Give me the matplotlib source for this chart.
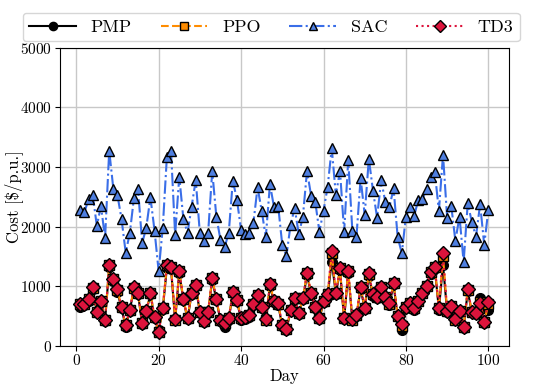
import matplotlib
matplotlib.use("Agg")
import matplotlib.pyplot as plt
import numpy as np

plt.rcParams['font.family'] = ['cmr10', 'DejaVu Serif']
plt.rcParams['axes.formatter.use_mathtext'] = True
plt.rcParams['mathtext.fontset'] = 'cm'

days = list(range(1, 101))

sac = [2282, 2243, 2461, 2534, 2013, 2349, 1807, 3277, 2640, 2528,
       2125, 1566, 1890, 2478, 2629, 1723, 1985, 2494, 1935, 1253,
       1985, 3177, 3272, 1862, 2841, 2131, 1890, 2338, 2780, 1890,
       1762, 1890, 2931, 2170, 1779, 1655, 1890, 2774, 2450, 1946,
       1874, 1890, 2069, 2662, 2265, 1823, 2713, 2327, 2349, 1689,
       1510, 2025, 2315, 1874, 2170, 2936, 2517, 2416, 1918, 2265,
       2668, 3317, 2528, 2942, 1913, 3121, 1935, 1834, 2813, 2198,
       3143, 2606, 2153, 2785, 2411, 2327, 2645, 1823, 1555, 2170,
       2327, 2181, 2450, 2466, 2629, 2841, 2919, 2265, 3205, 2153,
       2349, 1762, 2170, 1404, 2394, 2075, 1834, 2377, 1695, 2282]

td3 = [705, 710, 783, 984, 576, 761, 436, 1365, 1130, 951,
       649, 352, 604, 984, 895, 380, 587, 895, 481, 229,
       643, 1359, 1331, 447, 1264, 789, 464, 895, 1023, 576,
       425, 576, 1146, 789, 440, 391, 464, 906, 772, 464,
       492, 520, 705, 850, 660, 447, 1040, 761, 716, 352,
       290, 604, 800, 559, 800, 1230, 884, 649, 464, 755,
       867, 1599, 895, 1303, 464, 1264, 447, 520, 995, 643,
       1219, 867, 828, 995, 828, 716, 1062, 503, 369, 649,
       727, 632, 755, 895, 1007, 1247, 1331, 632, 1555, 593,
       671, 447, 593, 324, 951, 576, 559, 727, 408, 744]

pmp = [650, 690, 760, 960, 560, 740, 420, 1320, 1080, 900,
       630, 320, 590, 960, 870, 360, 570, 870, 460, 260,
       620, 1310, 1290, 430, 1230, 770, 450, 870, 1000, 560,
       400, 560, 1110, 770, 420, 324, 450, 880, 750, 440,
       450, 490, 680, 820, 640, 430, 1000, 740, 690, 330,
       270, 580, 780, 540, 780, 1190, 860, 630, 450, 730,
       840, 1415, 870, 1270, 450, 1230, 430, 500, 960, 620,
       1180, 840, 800, 960, 800, 690, 1030, 490, 268, 630,
       700, 610, 730, 870, 980, 1210, 1300, 610, 1360, 570,
       650, 430, 570, 300, 920, 560, 540, 800, 390, 604]

ppo = [700, 705, 778, 975, 570, 755, 432, 1355, 1120, 945,
       645, 348, 600, 978, 890, 376, 582, 890, 476, 235,
       638, 1350, 1325, 442, 1258, 784, 460, 890, 1018, 572,
       420, 572, 1140, 784, 436, 380, 460, 900, 768, 460,
       480, 515, 700, 845, 655, 442, 1035, 756, 710, 348,
       285, 600, 795, 555, 795, 1225, 880, 645, 460, 750,
       862, 1560, 890, 1298, 460, 1258, 442, 515, 990, 638,
       1212, 862, 822, 990, 822, 710, 1055, 500, 330, 645,
       722, 628, 750, 890, 1002, 1240, 1325, 628, 1500, 588,
       666, 442, 588, 320, 945, 572, 555, 740, 404, 700]

fig = plt.figure(figsize=(5.5, 3.86), dpi=100)
ax = fig.add_axes([0.109, 0.104, 0.816, 0.772])

ax.plot(days, pmp, '-', color='black', marker='o', markersize=7, lw=1.5, label='PMP')
ax.plot(days, ppo, '--', color='darkorange', marker='s', markersize=7,
        markerfacecolor='darkorange', markeredgecolor='black', lw=1.5, label='PPO')
ax.plot(days, sac, '-.', color='#3a6ee8', marker='^', markersize=7,
        markerfacecolor='#4f7fe0', markeredgecolor='black', lw=1.5, label='SAC')
ax.plot(days, td3, ':', color='crimson', marker='D', markersize=7,
        markerfacecolor='crimson', markeredgecolor='black', lw=1.5, label='TD3')

ax.set_ylim(0, 5000)
ax.set_xticks([0, 20, 40, 60, 80, 100])
ax.set_yticks([0, 1000, 2000, 3000, 4000, 5000])
ax.tick_params(labelsize=11, pad=2, length=3.5)
ax.grid(True, color='#c8c8c8', lw=1)
ax.set_axisbelow(True)
ax.set_xlabel('Day', fontsize=12)
ax.set_ylabel(r'Cost [\$/p.u.]', fontsize=12)
ax.xaxis.set_label_coords(0.5, -0.075)
ax.yaxis.set_label_coords(-0.082, 0.5)

fig.legend(loc='upper center', bbox_to_anchor=(0.493, 0.99), ncol=4, fontsize=13,
           handlelength=2.6, columnspacing=1.6, borderpad=0.35, markerscale=0.85,
           edgecolor='#cccccc')

fig.savefig('out.png', dpi=100)
